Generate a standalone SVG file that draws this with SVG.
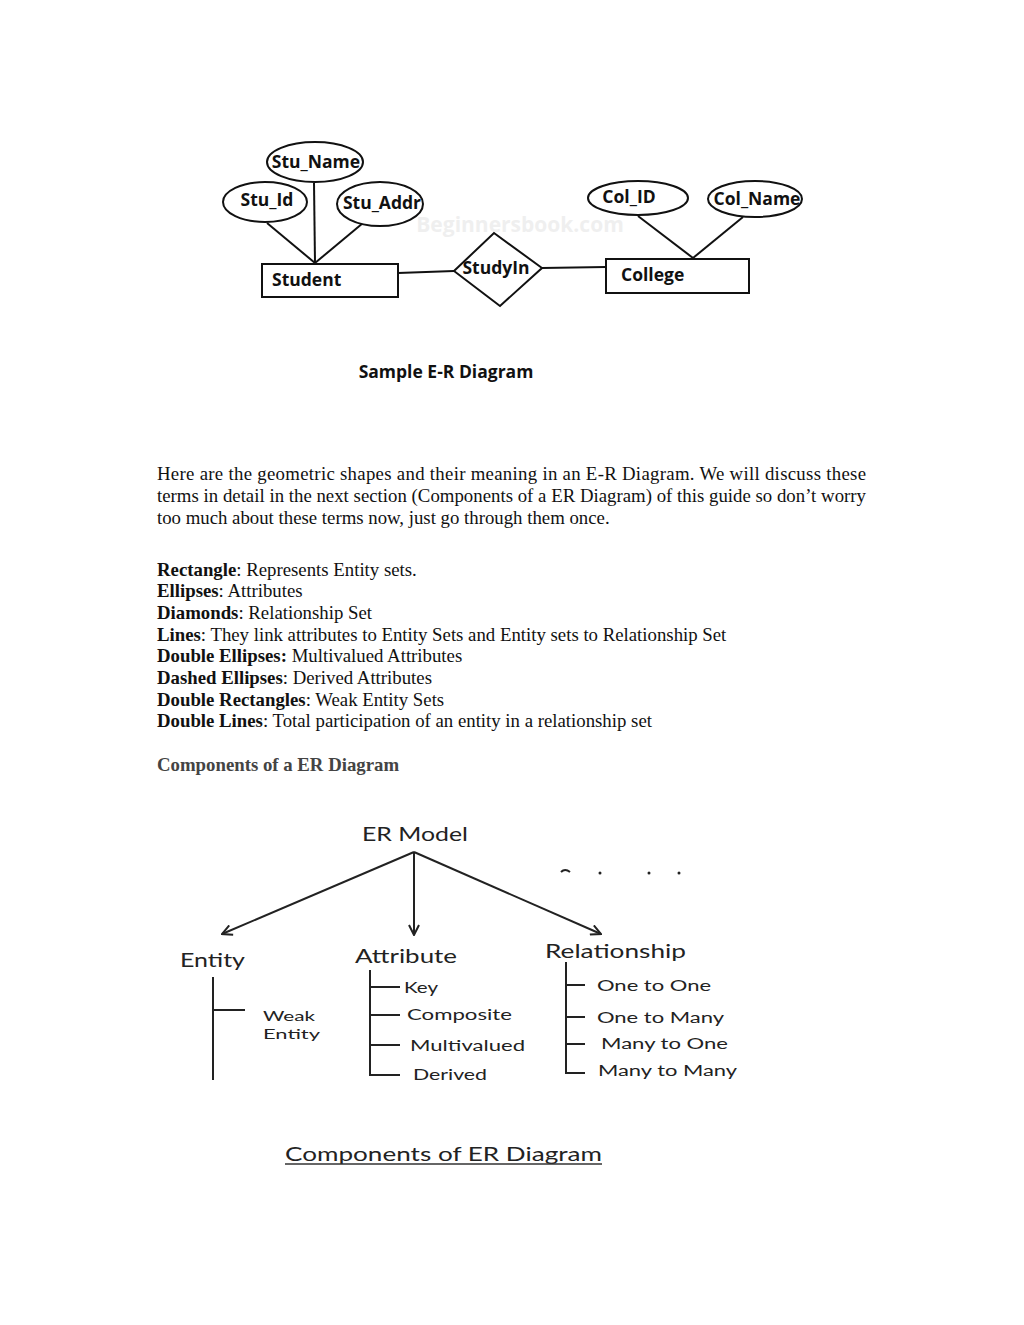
<svg xmlns="http://www.w3.org/2000/svg" width="1024" height="1325" viewBox="0 0 1024 1325">
<defs>
<style>
.sh{fill:#fff;stroke:#111;stroke-width:2}
.ln{stroke:#111;stroke-width:2;fill:none}
.er{font-family:"Open Sans","DejaVu Sans",sans-serif;font-weight:bold;font-size:17.5px;fill:#111}
.body{font-family:"Liberation Serif","Times New Roman",serif;font-size:18.8px;fill:#111}
.cm{font-family:"Lato","Open Sans",sans-serif;fill:#222}
.h{font-size:19px}
.s{font-size:15.5px}
.tr{stroke:#222;stroke-width:2;fill:none}
</style>
<marker id="ah" viewBox="0 0 12 12" refX="11" refY="6" markerWidth="12" markerHeight="12" markerUnits="userSpaceOnUse" orient="auto">
<path d="M1,1 L11,6 L1,11" fill="none" stroke="#222" stroke-width="2"/>
</marker>
</defs>
<rect width="1024" height="1325" fill="#fff"/>

<text x="520" y="232" text-anchor="middle" font-family="Open Sans,sans-serif" font-weight="bold" font-size="21" fill="#efefef">Beginnersbook.com</text>

<g id="connectors">
<line class="ln" x1="267" y1="223" x2="315" y2="263"/>
<line class="ln" x1="314" y1="183" x2="315" y2="263"/>
<line class="ln" x1="363" y1="223" x2="315" y2="263"/>
<line class="ln" x1="398" y1="273" x2="454" y2="271"/>
<line class="ln" x1="542" y1="268" x2="606" y2="267"/>
<line class="ln" x1="638" y1="216" x2="693" y2="258"/>
<line class="ln" x1="743" y1="217" x2="693" y2="258"/>
</g>

<g id="stu_name"><ellipse class="sh" cx="315" cy="162" rx="48" ry="20"/><text class="er" x="316" y="168" text-anchor="middle">Stu_Name</text></g>
<g id="stu_id"><ellipse class="sh" cx="265" cy="202" rx="42" ry="20"/><text class="er" x="267" y="206" text-anchor="middle">Stu_Id</text></g>
<g id="stu_addr"><ellipse class="sh" cx="380" cy="204" rx="43" ry="22"/><text class="er" x="382" y="209" text-anchor="middle">Stu_Addr</text></g>
<g id="student"><rect class="sh" x="262" y="264" width="136" height="33"/><text class="er" x="272" y="286">Student</text></g>
<g id="studyin"><polygon class="sh" points="454,271 494,233 542,268 500,306"/><text class="er" x="496" y="274" text-anchor="middle">StudyIn</text></g>
<g id="college"><rect class="sh" x="606" y="259" width="143" height="34"/><text class="er" x="621" y="281">College</text></g>
<g id="col_id"><ellipse class="sh" cx="638" cy="198" rx="50" ry="17"/><text class="er" x="629" y="203" text-anchor="middle">Col_ID</text></g>
<g id="col_name"><ellipse class="sh" cx="755" cy="199" rx="47" ry="18"/><text class="er" x="757" y="205" text-anchor="middle">Col_Name</text></g>

<text class="er" x="446" y="378" text-anchor="middle" font-size="18">Sample E-R Diagram</text>

<g id="paragraph">
<text class="body" x="157" y="480" textLength="709" lengthAdjust="spacing">Here are the geometric shapes and their meaning in an E-R Diagram. We will discuss these</text>
<text class="body" x="157" y="502" textLength="709" lengthAdjust="spacing">terms in detail in the next section (Components of a ER Diagram) of this guide so don’t worry</text>
<text class="body" x="157" y="524">too much about these terms now, just go through them once.</text>
</g>

<g id="list" class="body">
<text x="157" y="576"><tspan font-weight="bold">Rectangle</tspan>: Represents Entity sets.</text>
<text x="157" y="597"><tspan font-weight="bold">Ellipses</tspan>: Attributes</text>
<text x="157" y="619"><tspan font-weight="bold">Diamonds</tspan>: Relationship Set</text>
<text x="157" y="641"><tspan font-weight="bold">Lines</tspan>: They link attributes to Entity Sets and Entity sets to Relationship Set</text>
<text x="157" y="662"><tspan font-weight="bold">Double Ellipses:</tspan> Multivalued Attributes</text>
<text x="157" y="684"><tspan font-weight="bold">Dashed Ellipses</tspan>: Derived Attributes</text>
<text x="157" y="706"><tspan font-weight="bold">Double Rectangles</tspan>: Weak Entity Sets</text>
<text x="157" y="727"><tspan font-weight="bold">Double Lines</tspan>: Total participation of an entity in a relationship set</text>
<text x="157" y="771" font-weight="bold" fill="#444">Components of a ER Diagram</text>
</g>

<g id="tree-connectors">
<line class="tr" x1="414" y1="852" x2="222" y2="934" marker-end="url(#ah)"/>
<line class="tr" x1="414" y1="852" x2="414" y2="935" marker-end="url(#ah)"/>
<line class="tr" x1="414" y1="852" x2="601" y2="934" marker-end="url(#ah)"/>
<path class="tr" d="M213,977 V1080 M213,1010 H245"/>
<path class="tr" d="M370,970 V1075 H400 M370,987 H400 M370,1015 H400 M370,1045 H400"/>
<path class="tr" d="M566,962 V1073 H585 M566,985 H585 M566,1017 H585 M566,1044 H585"/>
</g>

<g id="marks" fill="#222">
<path d="M561,872 q4,-4 9,0" stroke="#222" stroke-width="2" fill="none"/>
<circle cx="600" cy="873" r="1.5"/>
<circle cx="649" cy="873" r="1.5"/>
<circle cx="679" cy="873" r="1.5"/>
</g>

<g id="er_model"><text class="cm h" x="362" y="841" textLength="106" lengthAdjust="spacingAndGlyphs">ER Model</text></g>
<g id="entity"><text class="cm h" x="180" y="967" textLength="65" lengthAdjust="spacingAndGlyphs">Entity</text></g>
<g id="weak_entity"><text class="cm" font-size="14" x="263" y="1021" textLength="52" lengthAdjust="spacingAndGlyphs">Weak</text><text class="cm" font-size="14" x="263" y="1039" textLength="57" lengthAdjust="spacingAndGlyphs">Entity</text></g>
<g id="attribute"><text class="cm h" x="355" y="963" textLength="102" lengthAdjust="spacingAndGlyphs">Attribute</text></g>
<g id="key"><text class="cm s" x="404" y="993" textLength="34" lengthAdjust="spacingAndGlyphs">Key</text></g>
<g id="composite"><text class="cm s" x="407" y="1020" textLength="105" lengthAdjust="spacingAndGlyphs">Composite</text></g>
<g id="multivalued"><text class="cm s" x="410" y="1051" textLength="115" lengthAdjust="spacingAndGlyphs">Multivalued</text></g>
<g id="derived"><text class="cm s" x="413" y="1080" textLength="74" lengthAdjust="spacingAndGlyphs">Derived</text></g>
<g id="relationship"><text class="cm h" x="545" y="958" textLength="141" lengthAdjust="spacingAndGlyphs">Relationship</text></g>
<g id="one_one"><text class="cm s" x="597" y="991" textLength="114" lengthAdjust="spacingAndGlyphs">One to One</text></g>
<g id="one_many"><text class="cm s" x="597" y="1023" textLength="127" lengthAdjust="spacingAndGlyphs">One to Many</text></g>
<g id="many_one"><text class="cm s" x="601" y="1049" textLength="127" lengthAdjust="spacingAndGlyphs">Many to One</text></g>
<g id="many_many"><text class="cm s" x="598" y="1076" textLength="139" lengthAdjust="spacingAndGlyphs">Many to Many</text></g>

<text class="cm" x="285" y="1161" font-size="19" fill="#333" textLength="317" lengthAdjust="spacingAndGlyphs">Components of ER Diagram</text>
<line x1="285" y1="1164" x2="602" y2="1164" stroke="#333" stroke-width="1.5"/>
</svg>
